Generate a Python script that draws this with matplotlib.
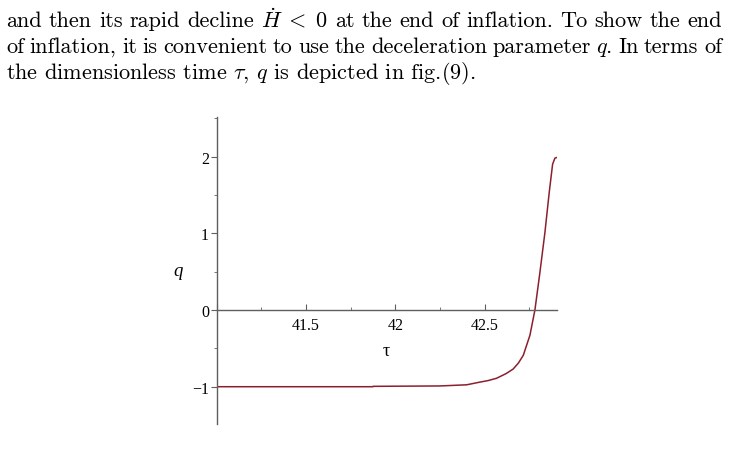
"""Recreates fig.(9): the deceleration parameter q against the dimensionless time tau, with the text above it."""

import re

import matplotlib
matplotlib.use("Agg")
import matplotlib.pyplot as plt
from matplotlib.ticker import FixedLocator, FixedFormatter

tau = [41.0, 41.875, 41.876, 42.25, 42.40, 42.474, 42.52, 42.567, 42.62, 42.66, 42.69,
       42.717, 42.754, 42.782, 42.81, 42.838, 42.862, 42.881, 42.894, 42.907]
q = [-1.0, -1.0, -0.995, -0.99, -0.975, -0.94, -0.92, -0.89, -0.83, -0.77, -0.69,
     -0.59, -0.33, 0.0, 0.49, 1.01, 1.53, 1.90, 1.98, 1.99]

x_major = [41.0, 41.5, 42.0, 42.5]
x_major_labels = ["", "41.5", "42", "42.5"]
x_minor = [41.25, 41.75, 42.25, 42.75]
y_major = [-1, 0, 1, 2]
y_major_labels = ["\u22121", "0", "1", "2"]
y_minor = [-1.5, -0.5, 0.5, 1.5, 2.5]

paragraph = [
    r"and then its rapid decline $\dot{H}\;<\;0$ at the end of inflation. To show the end",
    r"of inflation, it is convenient to use the deceleration parameter $q$. In terms of",
    r"the dimensionless time $\tau$, $q$ is depicted in fig.(9).",
]

W, H = 730, 464
TEXT_LEFT, TEXT_RIGHT = 6, 722
BASELINES = [27, 53, 79]
TEXT_SIZE = 16
AXIS_GREY = "#5f5f5f"
CURVE_RED = "#8c1f2d"


def tokenize(line):
    return re.findall(r"\$[^$]*\$\S*|\S+", line)


def write_paragraph(fig):
    renderer = fig.canvas.get_renderer()
    for i, line in enumerate(paragraph):
        y = 1 - BASELINES[i] / H
        if i == len(paragraph) - 1:
            fig.text(TEXT_LEFT / W, y, line, fontsize=TEXT_SIZE, family="cmr10", va="baseline")
            continue
        words = [fig.text(0, y, w, fontsize=TEXT_SIZE, family="cmr10", va="baseline") for w in tokenize(line)]
        widths = [t.get_window_extent(renderer).width for t in words]
        gap = (TEXT_RIGHT - TEXT_LEFT - sum(widths)) / (len(words) - 1)
        x = TEXT_LEFT
        for t, w in zip(words, widths):
            t.set_x(x / W)
            x += w + gap


def draw_plot(fig):
    ax = fig.add_axes([216.7 / W, 39 / H, 340 / W, 306.7 / H])
    ax.plot(tau, q, color=CURVE_RED, lw=1.1)
    ax.set_xlim(41.0, 42.904)
    ax.set_ylim(-1.486, 2.512)

    for side in ("top", "right"):
        ax.spines[side].set_visible(False)
    ax.spines["bottom"].set_position(("data", 0))
    for side in ("left", "bottom"):
        ax.spines[side].set_color(AXIS_GREY)
        ax.spines[side].set_linewidth(1.0)

    ax.xaxis.set_major_locator(FixedLocator(x_major))
    ax.xaxis.set_major_formatter(FixedFormatter(x_major_labels))
    ax.xaxis.set_minor_locator(FixedLocator(x_minor))
    ax.yaxis.set_major_locator(FixedLocator(y_major))
    ax.yaxis.set_major_formatter(FixedFormatter(y_major_labels))
    ax.yaxis.set_minor_locator(FixedLocator(y_minor))

    ax.tick_params(axis="x", which="both", direction="in", color=AXIS_GREY, pad=5)
    ax.tick_params(axis="x", which="major", length=4)
    ax.tick_params(axis="x", which="minor", length=2.5)
    ax.tick_params(axis="y", which="both", direction="out", color=AXIS_GREY, pad=1.5)
    ax.tick_params(axis="y", which="major", length=4)
    ax.tick_params(axis="y", which="minor", length=2.5)
    for lab in ax.get_xticklabels() + ax.get_yticklabels():
        lab.set_family("Liberation Serif")
        lab.set_fontsize(11.5)

    fig.text(386 / W, 1 - 352 / H, "\u03c4", family="Liberation Serif", fontsize=13,
             ha="center", va="center")
    fig.text(178 / W, 1 - 272 / H, "q", family="Liberation Serif", style="italic",
             fontsize=13.5, ha="center", va="center")


def main():
    plt.rcParams["mathtext.fontset"] = "cm"
    fig = plt.figure(figsize=(W / 100, H / 100), dpi=100)
    draw_plot(fig)
    write_paragraph(fig)
    fig.savefig("out.png", dpi=100)


if __name__ == "__main__":
    main()
